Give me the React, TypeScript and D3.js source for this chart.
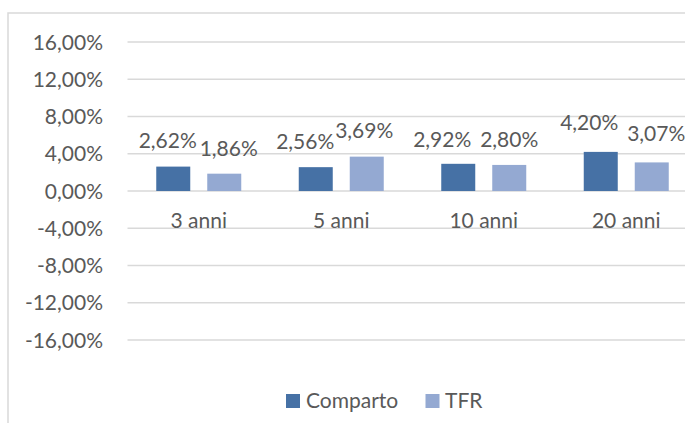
import * as d3 from "d3";

const categories = ["3 anni", "5 anni", "10 anni", "20 anni"];
const seriesNames = ["Comparto", "TFR"];
const comparto = [2.62, 2.56, 2.92, 4.2];
const tfr = [1.86, 3.69, 2.8, 3.07];
const yTicks = [-16, -12, -8, -4, 0, 4, 8, 12, 16];

// label nudges (like manually dragged data labels in the original)
const labelNudge: Record<string, { dx: number[]; dy: number[] }> = {
  Comparto: { dx: [-5.5, -10.5, -16, -11.5], dy: [-1, 0, 1, -4] },
  TFR: { dx: [4.5, -2.5, 0, 4.5], dy: [0, -1, 0, -3] },
};

const colors: Record<string, string> = { Comparto: "#4671A5", TFR: "#94A9D2" };

const W = 685;
const H = 423;
const FONT = "Lato, 'Open Sans', sans-serif";
const TEXT = "#595959";
const GRID = "#D9D9D9";

const it = d3.formatLocale({
  decimal: ",",
  thousands: ".",
  grouping: [3],
  currency: ["", "€"],
  minus: "-",
});
const pct = (v: number) => it.format(".2f")(v) + "%";

export default function App() {
  const x = d3.scaleBand<string>().domain(categories).range([127.5, 697.5]);
  const inner = d3.scaleBand<string>().domain(seriesNames).range([0, 85]).paddingInner(1 / 3);
  const y = d3.scaleLinear().domain([-16, 16]).range([340, 42]);

  const rows = seriesNames.map((s) => ({ name: s, values: s === "Comparto" ? comparto : tfr }));
  const groupLeft = (c: string) => (x(c) ?? 0) + x.bandwidth() / 2 - 42.5;

  return (
    <svg
      width={W}
      height={H}
      style={{ position: "absolute", left: 0, top: 0, background: "#fff" }}
      fontFamily={FONT}
    >
      <rect x={0} y={0} width={W} height={H} fill="#fff" />
      <rect x={8} y={13} width={W + 20} height={H + 20} fill="none" stroke={GRID} strokeWidth={1.5} />

      {yTicks.map((t) => (
        <g key={t}>
          <line x1={x.range()[0]} x2={x.range()[1]} y1={y(t)} y2={y(t)} stroke={GRID} strokeWidth={1.5} />
          <text x={103} y={y(t)} dy="0.36em" textAnchor="end" fontSize={21} fill={TEXT}>
            {pct(t)}
          </text>
        </g>
      ))}

      {rows.map((r) =>
        r.values.map((v, i) => {
          const c = categories[i];
          const bx = groupLeft(c) + (inner(r.name) ?? 0);
          const top = y(Math.max(0, v));
          return (
            <g key={r.name + c}>
              <rect
                x={bx}
                y={top}
                width={inner.bandwidth()}
                height={Math.abs(y(v) - y(0))}
                fill={colors[r.name]}
              />
              <text
                x={bx + inner.bandwidth() / 2 + labelNudge[r.name].dx[i]}
                y={top - 18 + labelNudge[r.name].dy[i]}
                textAnchor="middle"
                fontSize={21}
                fill={TEXT}
              >
                {pct(v)}
              </text>
            </g>
          );
        })
      )}

      {categories.map((c) => (
        <text
          key={c}
          x={(x(c) ?? 0) + x.bandwidth() / 2}
          y={y(0) + 37}
          textAnchor="middle"
          fontSize={21}
          fill={TEXT}
        >
          {c}
        </text>
      ))}

      <g>
        <rect x={286} y={394} width={14} height={14} fill={colors.Comparto} />
        <text x={306} y={408} fontSize={21} fill={TEXT}>
          Comparto
        </text>
        <rect x={425.5} y={394} width={14} height={14} fill={colors.TFR} />
        <text x={445} y={408} fontSize={21} fill={TEXT}>
          TFR
        </text>
      </g>
    </svg>
  );
}
